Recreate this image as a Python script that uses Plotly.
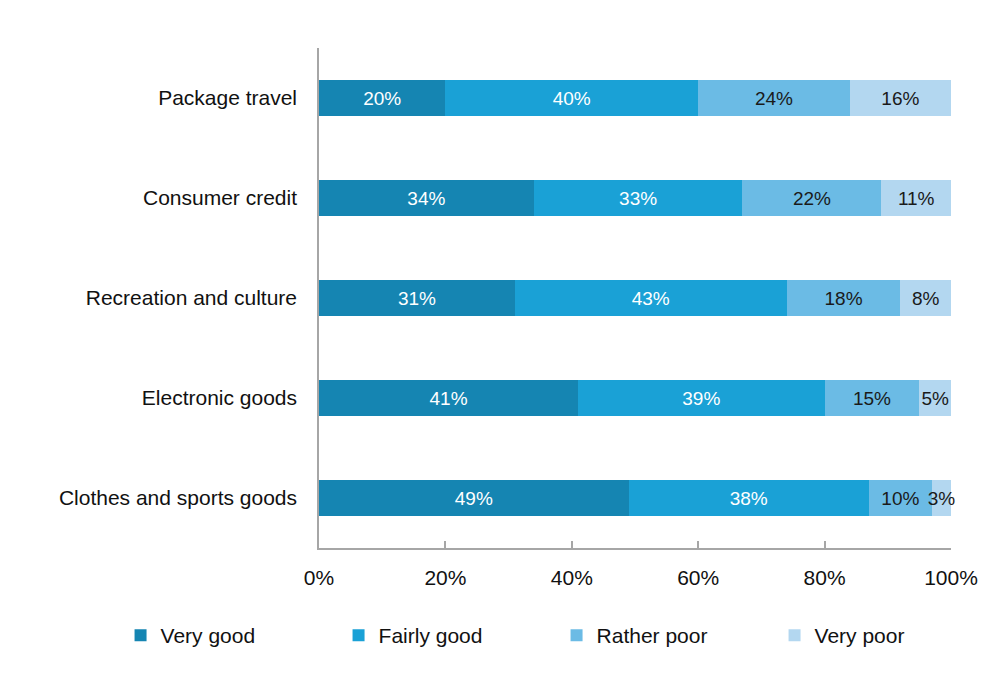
import plotly.graph_objects as go

categories = ["Package travel", "Consumer credit", "Recreation and culture",
              "Electronic goods", "Clothes and sports goods"]
series_names = ["Very good", "Fairly good", "Rather poor", "Very poor"]
very_good = [20, 34, 31, 41, 49]
fairly_good = [40, 33, 43, 39, 38]
rather_poor = [24, 22, 18, 15, 10]
very_poor = [16, 11, 8, 5, 3]
x_ticks = [0, 20, 40, 60, 80, 100]
x_tick_labels = ["0%", "20%", "40%", "60%", "80%", "100%"]

colors = ["#1585b2", "#1aa1d6", "#6bbbe5", "#b3d7f0"]
text_colors = ["#ffffff", "#ffffff", "#1a1a1a", "#1a1a1a"]
FONT = "Liberation Sans, Arial, sans-serif"

fig = go.Figure()
for name, vals, col, tcol in zip(series_names,
                                 [very_good, fairly_good, rather_poor, very_poor],
                                 colors, text_colors):
    fig.add_trace(go.Bar(
        y=categories, x=vals, name=name, orientation="h",
        marker=dict(color=col, line=dict(width=0)),
        text=[f"{v}%" for v in vals], textposition="inside",
        insidetextanchor="middle", textangle=0, constraintext="none",
        textfont=dict(family=FONT, size=19, color=tcol),
        cliponaxis=False,
        hoverinfo="skip",
    ))

fig.update_layout(
    barmode="stack", bargap=0.64,
    width=983, height=681,
    margin=dict(l=319, r=32, t=48, b=133, autoexpand=False),
    paper_bgcolor="white", plot_bgcolor="white",
    font=dict(family=FONT, size=20, color="#111111"),
    uniformtext=dict(mode=False),
    legend=dict(orientation="h", x=-0.314, xanchor="left", y=-0.175, yanchor="middle",
                font=dict(family=FONT, size=21, color="#111111"),
                entrywidth=173, entrywidthmode="pixels", traceorder="normal",
                itemclick=False),
)
fig.update_xaxes(range=[0, 100], tickvals=x_ticks, ticktext=x_tick_labels,
                 showgrid=False, zeroline=False, automargin=False,
                 showline=True, linecolor="#a6a6a6", linewidth=1.5,
                 ticks="inside", ticklen=7, tickcolor="#a6a6a6", tickwidth=1.5,
                 ticklabelstandoff=10,
                 tickfont=dict(family=FONT, size=21, color="#111111"))
fig.update_yaxes(autorange="reversed", showgrid=False, zeroline=False,
                 automargin=False,
                 showline=True, linecolor="#a6a6a6", linewidth=1.5,
                 ticks="", ticklabelstandoff=16,
                 tickfont=dict(family=FONT, size=21, color="#111111"))

fig.write_html("out.html")
